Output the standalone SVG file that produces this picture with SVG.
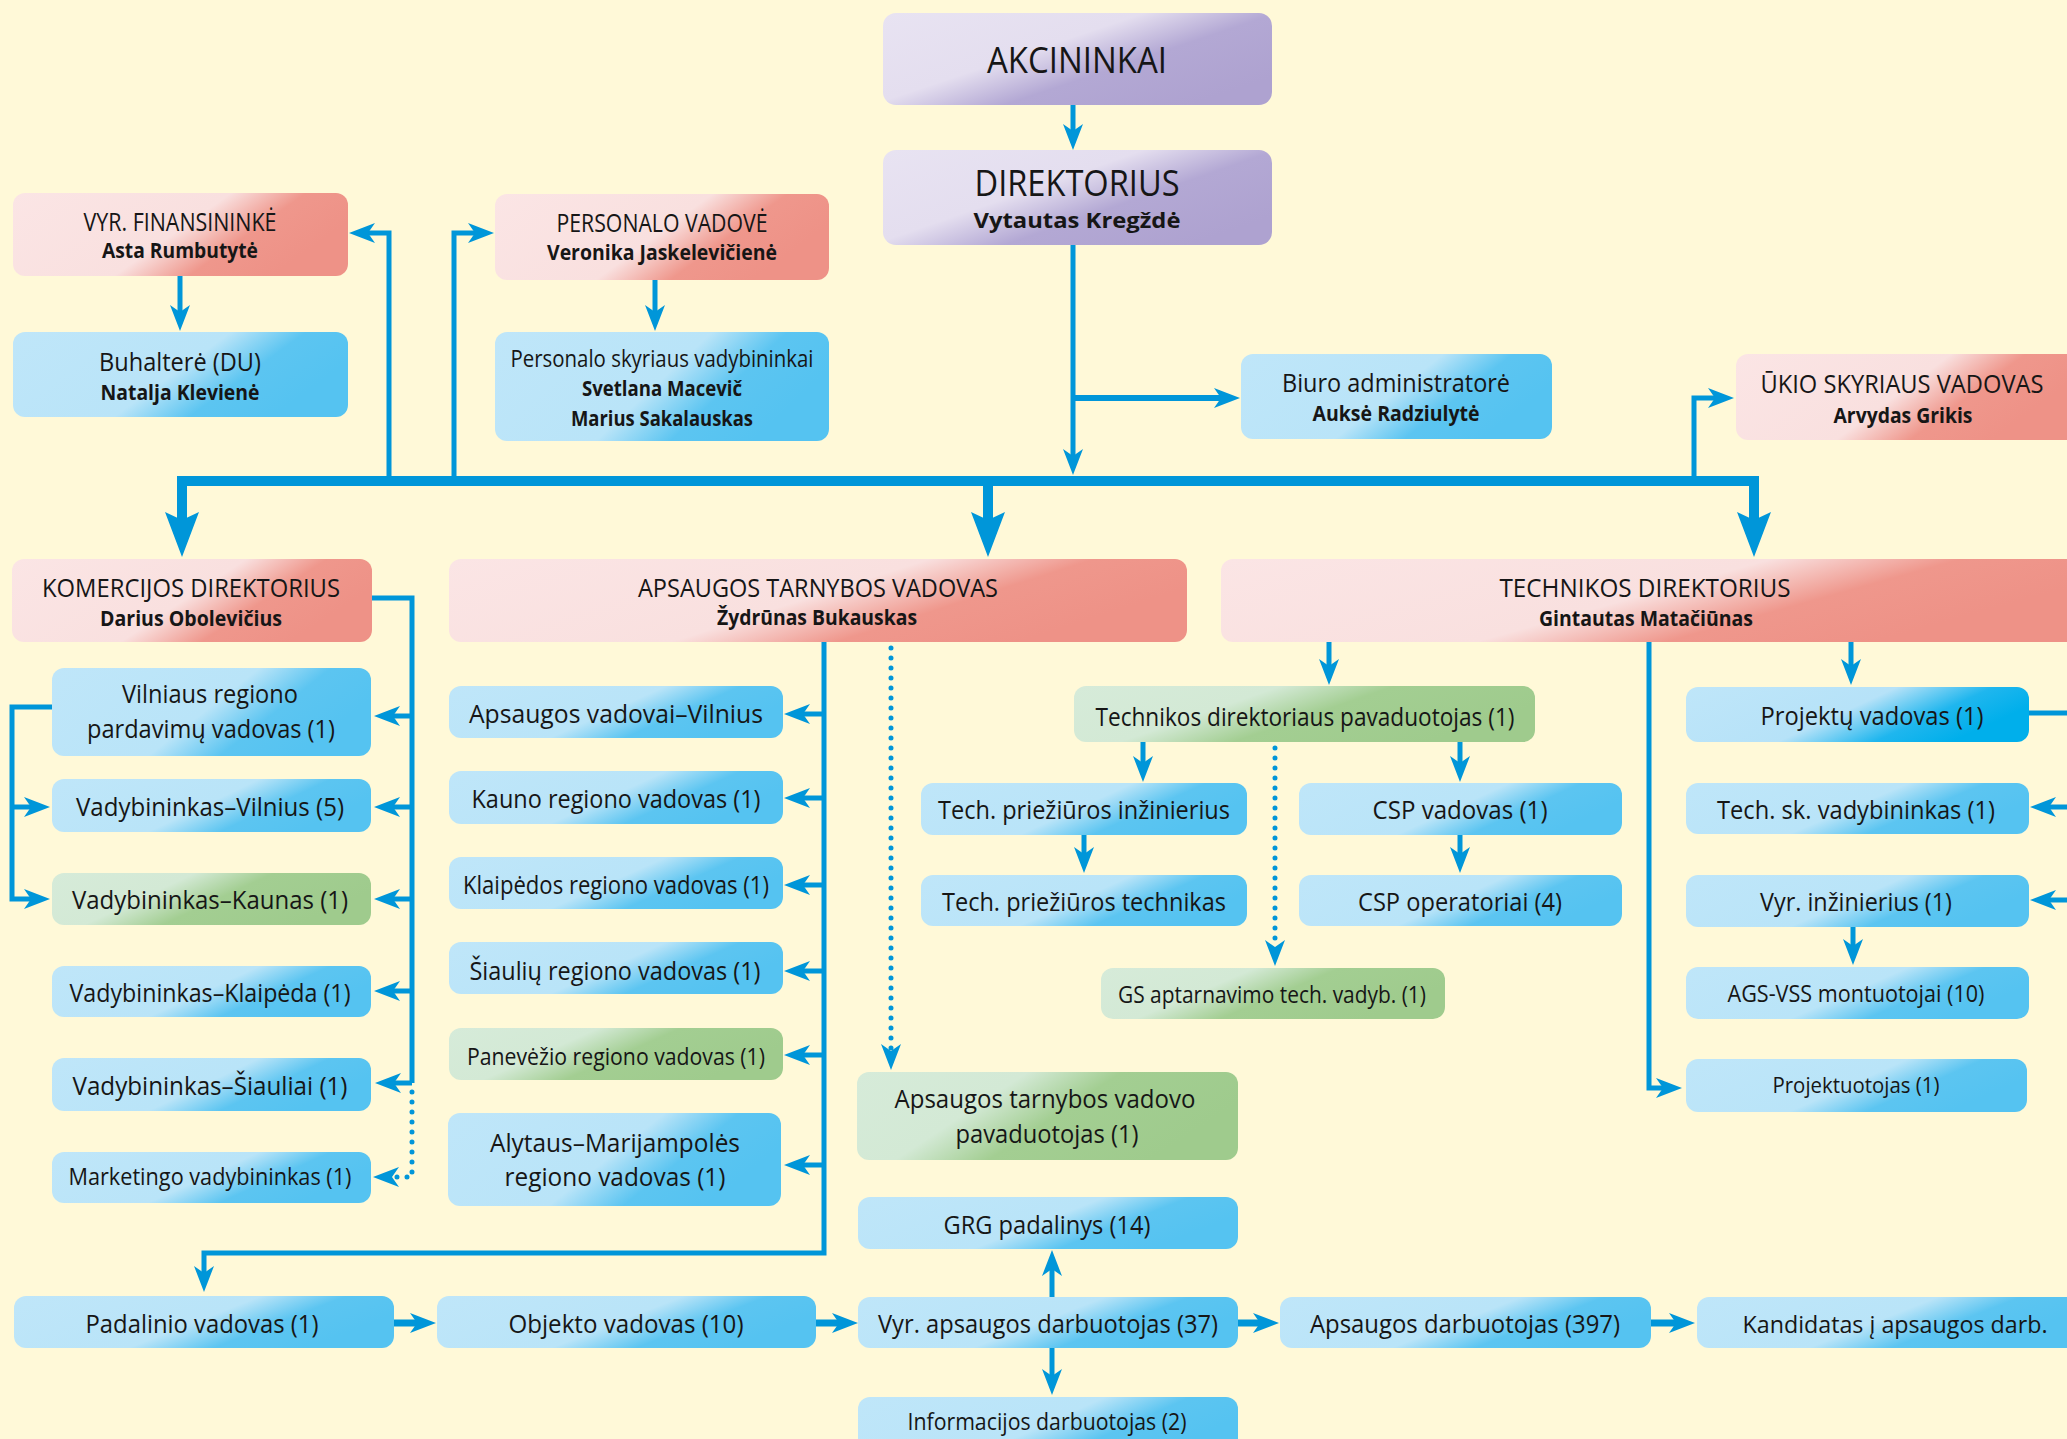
<svg xmlns="http://www.w3.org/2000/svg" width="2067" height="1439" viewBox="0 0 2067 1439">
<defs>
<style>
.t{font-family:"Open Sans","Noto Sans","Liberation Sans",sans-serif;fill:#161616;text-anchor:middle;font-size:26px}
.b{font-weight:700;font-size:21px}
.h{font-size:25px}
.s{font-size:23px}
.big{font-size:36px}
.c{fill:none;stroke:#0096D9;stroke-width:5;stroke-linejoin:miter}
.k{stroke-width:10}
.m{stroke-width:7}
.d{stroke-dasharray:0 10;stroke-linecap:round}
.a{marker-end:url(#ah)}
.A{marker-end:url(#AH);marker-start:url(#AH)}
</style>
<linearGradient id="gb" x1="0" y1="0" x2="1" y2="0.35"><stop offset="0" stop-color="#BFE6F9"/><stop offset="0.58" stop-color="#B9E4F8"/><stop offset="0.78" stop-color="#5CC5F1"/><stop offset="1" stop-color="#55C3F1"/></linearGradient>
<linearGradient id="gs" x1="0" y1="0" x2="1" y2="0.35"><stop offset="0" stop-color="#BFE6F9"/><stop offset="0.55" stop-color="#B6E2F8"/><stop offset="0.8" stop-color="#1FB6EE"/><stop offset="1" stop-color="#00AFEB"/></linearGradient>
<linearGradient id="gp" x1="0" y1="0" x2="1" y2="0.35"><stop offset="0" stop-color="#FBE5E5"/><stop offset="0.58" stop-color="#F9E0DF"/><stop offset="0.78" stop-color="#EF978C"/><stop offset="1" stop-color="#EE9287"/></linearGradient>
<linearGradient id="gg" x1="0" y1="0" x2="1" y2="0.35"><stop offset="0" stop-color="#D6EBD9"/><stop offset="0.4" stop-color="#D3E9D5"/><stop offset="0.62" stop-color="#A3CE92"/><stop offset="1" stop-color="#9FCB8D"/></linearGradient>
<linearGradient id="gv" x1="0" y1="0" x2="1" y2="0.7"><stop offset="0" stop-color="#E8E3F2"/><stop offset="0.45" stop-color="#E4DEEF"/><stop offset="0.68" stop-color="#B3A8D4"/><stop offset="1" stop-color="#AEA2D0"/></linearGradient>
<marker id="ah" markerUnits="userSpaceOnUse" orient="auto-start-reverse" refX="7" refY="0" markerWidth="30" markerHeight="24" viewBox="0 -12 30 24" overflow="visible"><path d="M0,-10 L26,0 L0,10 L7,0Z" fill="#0096D9"/></marker>
<marker id="AH" markerUnits="userSpaceOnUse" orient="auto-start-reverse" refX="8" refY="0" markerWidth="50" markerHeight="40" viewBox="0 -20 50 40" overflow="visible"><path d="M0,-17 L45,0 L0,17 L8,0Z" fill="#0096D9"/></marker>
</defs>
<rect x="0" y="0" width="2067" height="1439" fill="#FFF9D8"/>

<g id="connectors">
<path class="c a" d="M1073,105 V131"/>
<path class="c a" d="M1073,245 V456"/>
<path class="c a" style="stroke-width:6" d="M1073,398 H1221"/>
<path class="c k A" d="M182,520 V481 H1754 V520"/>
<path class="c k" style="marker-end:url(#AH)" d="M988,481 V520"/>
<path class="c a" d="M389,481 V233 H368"/>
<path class="c a" d="M454,481 V233 H475"/>
<path class="c a" d="M1694,481 V398 H1715"/>
<path class="c a" d="M180,276 V312"/>
<path class="c a" d="M655,280 V312"/>
<path class="c" d="M372,598 H412 V1083"/>
<path class="c a" d="M412,716 H393"/>
<path class="c a" d="M412,807 H393"/>
<path class="c a" d="M412,899 H393"/>
<path class="c a" d="M412,991 H393"/>
<path class="c a" d="M412,1083 H394"/>
<path class="c d a" d="M412,1092 V1177 H392"/>
<path class="c a" d="M52,707 H12 V899 H31"/>
<path class="c a" d="M12,807 H31"/>
<path class="c a" d="M824,642 V1253 H204 V1273"/>
<path class="c a" d="M824,714 H803"/>
<path class="c a" d="M824,798 H803"/>
<path class="c a" d="M824,885 H803"/>
<path class="c a" d="M824,971 H803"/>
<path class="c a" d="M824,1055 H803"/>
<path class="c a" d="M824,1165 H803"/>
<path class="c d a" d="M891,648 V1051"/>
<path class="c m a" d="M394,1323 H417"/>
<path class="c m a" d="M816,1323 H839"/>
<path class="c m a" d="M1238,1323 H1260"/>
<path class="c m a" d="M1651,1323 H1676"/>
<path class="c a" d="M1052,1297 V1269"/>
<path class="c a" d="M1052,1348 V1376"/>
<path class="c a" d="M1329,642 V666"/>
<path class="c a" d="M1851,642 V666"/>
<path class="c a" d="M1649,642 V1088 H1663"/>
<path class="c a" d="M1143,742 V763"/>
<path class="c a" d="M1460,742 V763"/>
<path class="c a" d="M1084,835 V854"/>
<path class="c a" d="M1460,835 V854"/>
<path class="c d a" d="M1275,748 V947"/>
<path class="c a" d="M1853,927 V946"/>
<path class="c" d="M2029,713 H2072"/>
<path class="c a" d="M2072,807 H2049"/>
<path class="c a" d="M2072,900 H2049"/>
</g>

<g id="akcininkai"><rect x="883" y="13" width="389" height="92" rx="13" fill="url(#gv)"/><text class="t big" x="1077" y="73" textLength="180" lengthAdjust="spacingAndGlyphs">AKCININKAI</text></g>
<g id="direktorius"><rect x="883" y="150" width="389" height="95" rx="13" fill="url(#gv)"/><text class="t big" x="1077" y="196" textLength="205" lengthAdjust="spacingAndGlyphs">DIREKTORIUS</text><text class="t b" x="1077" y="228" textLength="207" lengthAdjust="spacingAndGlyphs">Vytautas Kregždė</text></g>
<g id="vyr-finansininke"><rect x="13" y="193" width="335" height="83" rx="12" fill="url(#gp)"/><text class="t h" x="180" y="231" textLength="193" lengthAdjust="spacingAndGlyphs">VYR. FINANSININKĖ</text><text class="t b" x="180" y="258" textLength="156" lengthAdjust="spacingAndGlyphs">Asta Rumbutytė</text></g>
<g id="buhaltere"><rect x="13" y="332" width="335" height="85" rx="12" fill="url(#gb)"/><text class="t" x="180" y="371" textLength="162" lengthAdjust="spacingAndGlyphs">Buhalterė (DU)</text><text class="t b" x="180" y="400" textLength="159" lengthAdjust="spacingAndGlyphs">Natalja Klevienė</text></g>
<g id="personalo-vadove"><rect x="495" y="194" width="334" height="86" rx="12" fill="url(#gp)"/><text class="t h" x="662" y="232" textLength="211" lengthAdjust="spacingAndGlyphs">PERSONALO VADOVĖ</text><text class="t b" x="662" y="260" textLength="230" lengthAdjust="spacingAndGlyphs">Veronika Jaskelevičienė</text></g>
<g id="personalo-skyrius"><rect x="495" y="332" width="334" height="109" rx="12" fill="url(#gb)"/><text class="t s" x="662" y="367" textLength="303" lengthAdjust="spacingAndGlyphs">Personalo skyriaus vadybininkai</text><text class="t b" x="662" y="396" textLength="160" lengthAdjust="spacingAndGlyphs">Svetlana Macevič</text><text class="t b" x="662" y="426" textLength="182" lengthAdjust="spacingAndGlyphs">Marius Sakalauskas</text></g>
<g id="biuro"><rect x="1241" y="354" width="311" height="85" rx="12" fill="url(#gb)"/><text class="t" x="1396" y="392" textLength="228" lengthAdjust="spacingAndGlyphs">Biuro administratorė</text><text class="t b" x="1396" y="421" textLength="167" lengthAdjust="spacingAndGlyphs">Auksė Radziulytė</text></g>
<g id="ukio"><path d="M1748,354 H2067 V440 H1748 A12,12 0 0 1 1736,428 V366 A12,12 0 0 1 1748,354 Z" fill="url(#gp)"/><text class="t h" x="1902" y="393" textLength="283" lengthAdjust="spacingAndGlyphs">ŪKIO SKYRIAUS VADOVAS</text><text class="t b" x="1903" y="423" textLength="139" lengthAdjust="spacingAndGlyphs">Arvydas Grikis</text></g>

<g id="komercijos"><rect x="12" y="559" width="360" height="83" rx="12" fill="url(#gp)"/><text class="t h" x="191" y="597" textLength="298" lengthAdjust="spacingAndGlyphs">KOMERCIJOS DIREKTORIUS</text><text class="t b" x="191" y="626" textLength="182" lengthAdjust="spacingAndGlyphs">Darius Obolevičius</text></g>
<g id="apsaugos"><rect x="449" y="559" width="738" height="83" rx="12" fill="url(#gp)"/><text class="t h" x="818" y="597" textLength="360" lengthAdjust="spacingAndGlyphs">APSAUGOS TARNYBOS VADOVAS</text><text class="t b" x="817" y="625" textLength="200" lengthAdjust="spacingAndGlyphs">Žydrūnas Bukauskas</text></g>
<g id="technikos"><path d="M1233,559 H2067 V642 H1233 A12,12 0 0 1 1221,630 V571 A12,12 0 0 1 1233,559 Z" fill="url(#gp)"/><text class="t h" x="1645" y="597" textLength="291" lengthAdjust="spacingAndGlyphs">TECHNIKOS DIREKTORIUS</text><text class="t b" x="1646" y="626" textLength="214" lengthAdjust="spacingAndGlyphs">Gintautas Matačiūnas</text></g>

<g id="vilniaus-regiono"><rect x="52" y="668" width="319" height="88" rx="12" fill="url(#gb)"/><text class="t" style="font-size:25px" x="210" y="703" textLength="176" lengthAdjust="spacingAndGlyphs">Vilniaus regiono</text><text class="t" style="font-size:25px" x="211" y="738" textLength="248" lengthAdjust="spacingAndGlyphs">pardavimų vadovas (1)</text></g>
<g id="vad-vilnius"><rect x="52" y="779" width="319" height="53" rx="12" fill="url(#gb)"/><text class="t" x="210" y="816" textLength="268" lengthAdjust="spacingAndGlyphs">Vadybininkas–Vilnius (5)</text></g>
<g id="vad-kaunas"><rect x="52" y="873" width="319" height="52" rx="12" fill="url(#gg)"/><text class="t" x="210" y="909" textLength="276" lengthAdjust="spacingAndGlyphs">Vadybininkas–Kaunas (1)</text></g>
<g id="vad-klaipeda"><rect x="52" y="966" width="319" height="51" rx="12" fill="url(#gb)"/><text class="t" x="210" y="1002" textLength="281" lengthAdjust="spacingAndGlyphs">Vadybininkas–Klaipėda (1)</text></g>
<g id="vad-siauliai"><rect x="52" y="1058" width="319" height="53" rx="12" fill="url(#gb)"/><text class="t" x="210" y="1095" textLength="275" lengthAdjust="spacingAndGlyphs">Vadybininkas–Šiauliai (1)</text></g>
<g id="marketingo"><rect x="52" y="1152" width="319" height="51" rx="12" fill="url(#gb)"/><text class="t s" x="210" y="1185" textLength="283" lengthAdjust="spacingAndGlyphs">Marketingo vadybininkas (1)</text></g>

<g id="aps-vilnius"><rect x="449" y="686" width="334" height="52" rx="12" fill="url(#gb)"/><text class="t" x="616" y="723" textLength="294" lengthAdjust="spacingAndGlyphs">Apsaugos vadovai–Vilnius</text></g>
<g id="kauno"><rect x="449" y="771" width="334" height="53" rx="12" fill="url(#gb)"/><text class="t" x="616" y="808" textLength="289" lengthAdjust="spacingAndGlyphs">Kauno regiono vadovas (1)</text></g>
<g id="klaipedos"><rect x="449" y="857" width="334" height="52" rx="12" fill="url(#gb)"/><text class="t" x="616" y="894" textLength="306" lengthAdjust="spacingAndGlyphs">Klaipėdos regiono vadovas (1)</text></g>
<g id="siauliu"><rect x="449" y="942" width="334" height="52" rx="12" fill="url(#gb)"/><text class="t" x="615" y="980" textLength="291" lengthAdjust="spacingAndGlyphs">Šiaulių regiono vadovas (1)</text></g>
<g id="panevezio"><rect x="449" y="1028" width="334" height="52" rx="12" fill="url(#gg)"/><text class="t" style="font-size:24px" x="616" y="1065" textLength="298" lengthAdjust="spacingAndGlyphs">Panevėžio regiono vadovas (1)</text></g>
<g id="alytaus"><rect x="448" y="1113" width="333" height="93" rx="12" fill="url(#gb)"/><text class="t" x="615" y="1152" textLength="250" lengthAdjust="spacingAndGlyphs">Alytaus–Marijampolės</text><text class="t" x="615" y="1186" textLength="221" lengthAdjust="spacingAndGlyphs">regiono vadovas (1)</text></g>

<g id="atv-pavaduotojas"><rect x="857" y="1072" width="381" height="88" rx="12" fill="url(#gg)"/><text class="t" x="1045" y="1108" textLength="301" lengthAdjust="spacingAndGlyphs">Apsaugos tarnybos vadovo</text><text class="t" x="1047" y="1143" textLength="183" lengthAdjust="spacingAndGlyphs">pavaduotojas (1)</text></g>
<g id="grg"><rect x="858" y="1197" width="380" height="52" rx="12" fill="url(#gb)"/><text class="t" x="1047" y="1234" textLength="207" lengthAdjust="spacingAndGlyphs">GRG padalinys (14)</text></g>
<g id="vyr-apsaugos"><rect x="858" y="1297" width="380" height="51" rx="12" fill="url(#gb)"/><text class="t" x="1048" y="1333" textLength="340" lengthAdjust="spacingAndGlyphs">Vyr. apsaugos darbuotojas (37)</text></g>
<g id="informacijos"><rect x="858" y="1397" width="380" height="60" rx="12" fill="url(#gb)"/><text class="t" style="font-size:24px" x="1047" y="1430" textLength="279" lengthAdjust="spacingAndGlyphs">Informacijos darbuotojas (2)</text></g>
<g id="padalinio"><rect x="14" y="1296" width="380" height="52" rx="12" fill="url(#gb)"/><text class="t" x="202" y="1333" textLength="233" lengthAdjust="spacingAndGlyphs">Padalinio vadovas (1)</text></g>
<g id="objekto"><rect x="437" y="1296" width="379" height="52" rx="12" fill="url(#gb)"/><text class="t" x="626" y="1333" textLength="235" lengthAdjust="spacingAndGlyphs">Objekto vadovas (10)</text></g>
<g id="apsaugos-darb"><rect x="1280" y="1297" width="371" height="51" rx="12" fill="url(#gb)"/><text class="t" x="1465" y="1333" textLength="310" lengthAdjust="spacingAndGlyphs">Apsaugos darbuotojas (397)</text></g>
<g id="kandidatas"><path d="M1709,1297 H2067 V1348 H1709 A12,12 0 0 1 1697,1336 V1309 A12,12 0 0 1 1709,1297 Z" fill="url(#gb)"/><text class="t" style="font-size:24px" x="1895" y="1333" textLength="305" lengthAdjust="spacingAndGlyphs">Kandidatas į apsaugos darb.</text></g>

<g id="tech-pavaduotojas"><rect x="1074" y="686" width="461" height="56" rx="12" fill="url(#gg)"/><text class="t" x="1305" y="726" textLength="419" lengthAdjust="spacingAndGlyphs">Technikos direktoriaus pavaduotojas (1)</text></g>
<g id="tech-inz"><rect x="921" y="783" width="326" height="52" rx="12" fill="url(#gb)"/><text class="t" x="1084" y="819" textLength="292" lengthAdjust="spacingAndGlyphs">Tech. priežiūros inžinierius</text></g>
<g id="tech-tech"><rect x="921" y="875" width="326" height="51" rx="12" fill="url(#gb)"/><text class="t" x="1084" y="911" textLength="284" lengthAdjust="spacingAndGlyphs">Tech. priežiūros technikas</text></g>
<g id="csp-vadovas"><rect x="1299" y="783" width="323" height="52" rx="12" fill="url(#gb)"/><text class="t" x="1460" y="819" textLength="175" lengthAdjust="spacingAndGlyphs">CSP vadovas (1)</text></g>
<g id="csp-operatoriai"><rect x="1299" y="875" width="323" height="51" rx="12" fill="url(#gb)"/><text class="t" x="1460" y="911" textLength="204" lengthAdjust="spacingAndGlyphs">CSP operatoriai (4)</text></g>
<g id="gs"><rect x="1101" y="968" width="344" height="51" rx="12" fill="url(#gg)"/><text class="t s" x="1272" y="1003" textLength="308" lengthAdjust="spacingAndGlyphs">GS aptarnavimo tech. vadyb. (1)</text></g>
<g id="projektu-vadovas"><rect x="1686" y="687" width="343" height="55" rx="12" fill="url(#gs)"/><text class="t" x="1872" y="725" textLength="223" lengthAdjust="spacingAndGlyphs">Projektų vadovas (1)</text></g>
<g id="tech-sk"><rect x="1686" y="783" width="343" height="51" rx="12" fill="url(#gb)"/><text class="t" x="1856" y="819" textLength="278" lengthAdjust="spacingAndGlyphs">Tech. sk. vadybininkas (1)</text></g>
<g id="vyr-inz"><rect x="1686" y="875" width="343" height="52" rx="12" fill="url(#gb)"/><text class="t" x="1856" y="911" textLength="192" lengthAdjust="spacingAndGlyphs">Vyr. inžinierius (1)</text></g>
<g id="ags-vss"><rect x="1686" y="967" width="343" height="52" rx="12" fill="url(#gb)"/><text class="t" style="font-size:24px" x="1856" y="1002" textLength="257" lengthAdjust="spacingAndGlyphs">AGS-VSS montuotojai (10)</text></g>
<g id="projektuotojas"><rect x="1686" y="1059" width="341" height="53" rx="12" fill="url(#gb)"/><text class="t" style="font-size:22px" x="1856" y="1093" textLength="167" lengthAdjust="spacingAndGlyphs">Projektuotojas (1)</text></g>
</svg>
